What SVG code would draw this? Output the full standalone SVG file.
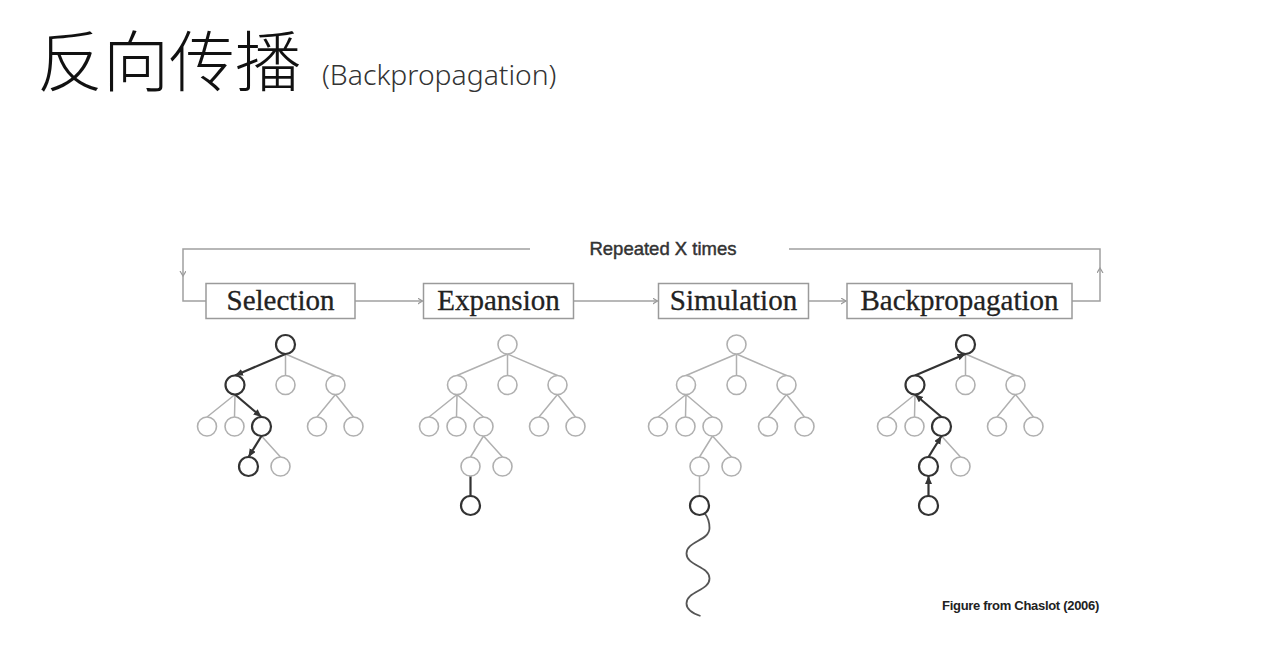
<svg xmlns="http://www.w3.org/2000/svg" width="1279" height="667" viewBox="0 0 1279 667">
<style>
.title{font-family:"Noto Sans CJK SC","Noto Sans",sans-serif;font-size:66px;font-weight:300;fill:#111}
.sub{font-family:"Noto Sans","Open Sans",sans-serif;font-size:28.3px;font-weight:300;fill:#333}
.box{fill:#fff;stroke:#9a9a9a;stroke-width:1.5}
.lbl{font-family:"Liberation Serif","Times New Roman",serif;font-size:29px;fill:#222;stroke:#222;stroke-width:0.3;text-anchor:middle}
.loop{fill:none;stroke:#a0a0a0;stroke-width:1.5}
.rep{font-family:"Liberation Sans",Arial,sans-serif;font-size:18.5px;fill:#333;stroke:#333;stroke-width:0.45;text-anchor:middle}
.cap{font-family:"Liberation Sans",Arial,sans-serif;font-size:13px;font-weight:bold;letter-spacing:-0.3px;fill:#222;text-anchor:end}
.e{stroke:#b0b0b0;stroke-width:1.5;fill:none}
.ed{stroke:#333;stroke-width:2.2;fill:none}
.n{fill:#fff;stroke:#b0b0b0;stroke-width:1.6}
.nd{fill:#fff;stroke:#333;stroke-width:2.2}
.wave{fill:none;stroke:#555;stroke-width:1.8}
</style>
<defs>
<marker id="chev" markerUnits="userSpaceOnUse" markerWidth="8" markerHeight="8" refX="5" refY="3" orient="auto">
<path d="M0,0 L5,3 L0,6" fill="none" stroke="#999" stroke-width="1.2"/>
</marker>
<marker id="tri" markerUnits="userSpaceOnUse" markerWidth="10" markerHeight="10" refX="8" refY="3.5" orient="auto">
<path d="M0,0 L8,3.5 L0,7 z" fill="#333"/>
</marker>
</defs>
<rect width="1279" height="667" fill="#fff"/>

<g id="title">
<text class="title" x="37" y="86">反向传播</text>
<text class="sub" x="322" y="85">(Backpropagation)</text>
</g>

<g id="connectors">
<path class="loop" d="M530 249 H183 V276" marker-end="url(#chev)"/>
<path class="loop" d="M183 275 V301 H206"/>
<path class="loop" d="M1072 301 H1100 V268" marker-end="url(#chev)"/>
<path class="loop" d="M1100 269 V249 H789"/>
<path class="loop" d="M355 301 H422.5" marker-end="url(#chev)"/>
<path class="loop" d="M573.5 301 H657.5" marker-end="url(#chev)"/>
<path class="loop" d="M808.5 301 H846" marker-end="url(#chev)"/>
<text class="rep" x="663" y="255">Repeated X times</text>
</g>

<g id="selection">
<rect class="box" x="206" y="283.5" width="149" height="35"/>
<text class="lbl" x="280.5" y="310">Selection</text>
</g>
<g id="expansion">
<rect class="box" x="423.5" y="283.5" width="150" height="35"/>
<text class="lbl" x="498.5" y="310">Expansion</text>
</g>
<g id="simulation">
<rect class="box" x="658.5" y="283.5" width="150" height="35"/>
<text class="lbl" x="733.5" y="310">Simulation</text>
</g>
<g id="backpropagation">
<rect class="box" x="847" y="283.5" width="225" height="35"/>
<text class="lbl" x="959.5" y="310">Backpropagation</text>
</g>

<g id="tree-selection" transform="translate(285.5,0)">
<path class="e" d="M0 354 L0 375.5 M0 354 L50 375.5 M-50.5 394.5 L-78.5 417 M-50.5 394.5 L-51 417 M50 394.5 L31.5 417 M50 394.5 L68 417 M-24 436 L-5 457"/>
<path class="ed" d="M0 354 L-50.5 375.5" marker-end="url(#tri)"/>
<path class="ed" d="M-50.5 394.5 L-24 417" marker-end="url(#tri)"/>
<path class="ed" d="M-24 436 L-37 457" marker-end="url(#tri)"/>
<circle class="nd" cx="0" cy="344.5" r="9.5"/>
<circle class="nd" cx="-50.5" cy="385" r="9.5"/>
<circle class="n" cx="0" cy="385" r="9.5"/>
<circle class="n" cx="50" cy="385" r="9.5"/>
<circle class="n" cx="-78.5" cy="426.5" r="9.5"/>
<circle class="n" cx="-51" cy="426.5" r="9.5"/>
<circle class="nd" cx="-24" cy="426.5" r="9.5"/>
<circle class="n" cx="31.5" cy="426.5" r="9.5"/>
<circle class="n" cx="68" cy="426.5" r="9.5"/>
<circle class="nd" cx="-37" cy="466.5" r="9.5"/>
<circle class="n" cx="-5" cy="466.5" r="9.5"/>
</g>

<g id="tree-expansion" transform="translate(507.5,0)">
<path class="e" d="M0 354 L-50.5 375.5 M0 354 L0 375.5 M0 354 L50 375.5 M-50.5 394.5 L-78.5 417 M-50.5 394.5 L-51 417 M-50.5 394.5 L-24 417 M50 394.5 L31.5 417 M50 394.5 L68 417 M-24 436 L-37 457 M-24 436 L-5 457"/>
<path class="ed" d="M-37 476 L-37 496"/>
<circle class="n" cx="0" cy="344.5" r="9.5"/>
<circle class="n" cx="-50.5" cy="385" r="9.5"/>
<circle class="n" cx="0" cy="385" r="9.5"/>
<circle class="n" cx="50" cy="385" r="9.5"/>
<circle class="n" cx="-78.5" cy="426.5" r="9.5"/>
<circle class="n" cx="-51" cy="426.5" r="9.5"/>
<circle class="n" cx="-24" cy="426.5" r="9.5"/>
<circle class="n" cx="31.5" cy="426.5" r="9.5"/>
<circle class="n" cx="68" cy="426.5" r="9.5"/>
<circle class="n" cx="-37" cy="466.5" r="9.5"/>
<circle class="n" cx="-5" cy="466.5" r="9.5"/>
<circle class="nd" cx="-37" cy="505.5" r="9.5"/>
</g>

<g id="tree-simulation" transform="translate(736.5,0)">
<path class="e" d="M0 354 L-50.5 375.5 M0 354 L0 375.5 M0 354 L50 375.5 M-50.5 394.5 L-78.5 417 M-50.5 394.5 L-51 417 M-50.5 394.5 L-24 417 M50 394.5 L31.5 417 M50 394.5 L68 417 M-24 436 L-37 457 M-24 436 L-5 457 M-37 476 L-37 496"/>
<path class="wave" d="M-32 513 C-28 518 -27 522 -27 528 C-27 541 -50 541 -50 553.5 C-50 566 -27 566 -27 578.5 C-27 591 -50 591 -50 603.5 C-50 610 -42 614 -36 616"/>
<circle class="n" cx="0" cy="344.5" r="9.5"/>
<circle class="n" cx="-50.5" cy="385" r="9.5"/>
<circle class="n" cx="0" cy="385" r="9.5"/>
<circle class="n" cx="50" cy="385" r="9.5"/>
<circle class="n" cx="-78.5" cy="426.5" r="9.5"/>
<circle class="n" cx="-51" cy="426.5" r="9.5"/>
<circle class="n" cx="-24" cy="426.5" r="9.5"/>
<circle class="n" cx="31.5" cy="426.5" r="9.5"/>
<circle class="n" cx="68" cy="426.5" r="9.5"/>
<circle class="n" cx="-37" cy="466.5" r="9.5"/>
<circle class="n" cx="-5" cy="466.5" r="9.5"/>
<circle class="nd" cx="-37" cy="505.5" r="9.5"/>
</g>

<g id="tree-backpropagation" transform="translate(965.5,0)">
<path class="e" d="M0 354 L0 375.5 M0 354 L50 375.5 M-50.5 394.5 L-78.5 417 M-50.5 394.5 L-51 417 M50 394.5 L31.5 417 M50 394.5 L68 417 M-24 436 L-5 457"/>
<path class="ed" d="M-37 496 L-37 476" marker-end="url(#tri)"/>
<path class="ed" d="M-37 457 L-24 436" marker-end="url(#tri)"/>
<path class="ed" d="M-24 417 L-50.5 394.5" marker-end="url(#tri)"/>
<path class="ed" d="M-50.5 375.5 L0 354" marker-end="url(#tri)"/>
<circle class="nd" cx="0" cy="344.5" r="9.5"/>
<circle class="nd" cx="-50.5" cy="385" r="9.5"/>
<circle class="n" cx="0" cy="385" r="9.5"/>
<circle class="n" cx="50" cy="385" r="9.5"/>
<circle class="n" cx="-78.5" cy="426.5" r="9.5"/>
<circle class="n" cx="-51" cy="426.5" r="9.5"/>
<circle class="nd" cx="-24" cy="426.5" r="9.5"/>
<circle class="n" cx="31.5" cy="426.5" r="9.5"/>
<circle class="n" cx="68" cy="426.5" r="9.5"/>
<circle class="nd" cx="-37" cy="466.5" r="9.5"/>
<circle class="n" cx="-5" cy="466.5" r="9.5"/>
<circle class="nd" cx="-37" cy="505.5" r="9.5"/>
</g>

<text id="caption" class="cap" x="1099" y="610">Figure from Chaslot (2006)</text>
</svg>
